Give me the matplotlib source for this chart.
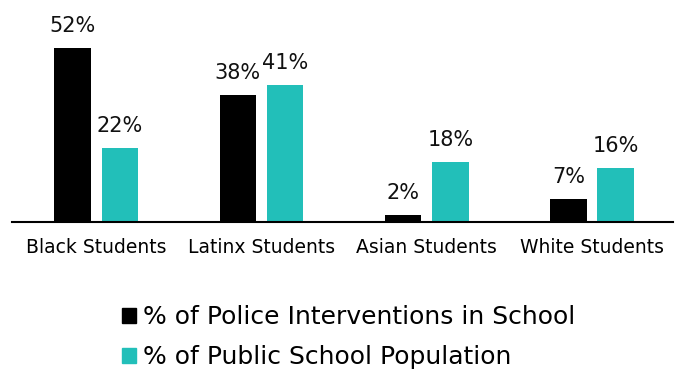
import matplotlib
matplotlib.use("Agg")
import matplotlib.pyplot as plt
from matplotlib.patches import Patch
import numpy as np

categories = ["Black Students", "Latinx Students", "Asian Students", "White Students"]
police = [52, 38, 2, 7]
population = [22, 41, 18, 16]
series_names = ["% of Police Interventions in School", "% of Public School Population"]

black = "#000000"
teal = "#22BFB9"

fig = plt.figure(figsize=(6.81, 3.72), dpi=100)
ax = fig.add_axes([12 / 681, 1 - 222 / 372, 661 / 681, 192 / 372])

x = np.arange(len(categories))
w = 0.22
off = 0.143
b1 = ax.bar(x - off, police, w, color=black)
b2 = ax.bar(x + off, population, w, color=teal)

for bars, vals in ((b1, police), (b2, population)):
    for r, v in zip(bars, vals):
        ax.text(r.get_x() + r.get_width() / 2, v + 4.8, f"{v}%",
                ha="center", va="baseline", fontsize=15, color="#111111")

ax.set_xlim(-0.51, 3.49)
ax.set_ylim(0, 57.4)
ax.set_yticks([])
ax.set_xticks(x)
ax.set_xticklabels(categories, fontsize=13.5)
ax.tick_params(axis="x", length=0, pad=11.5)
for s in ("top", "right", "left"):
    ax.spines[s].set_visible(False)
ax.spines["bottom"].set_linewidth(1.5)

handles = [Patch(color=black), Patch(color=teal)]
fig.legend(handles, series_names, loc="upper left", bbox_to_anchor=(112 / 681, 1 - 295 / 372),
           frameon=False, fontsize=18, handlelength=0.55, handleheight=0.55,
           handletextpad=0.3, labelspacing=0.65, borderaxespad=0)

fig.savefig("out.png", dpi=100)
